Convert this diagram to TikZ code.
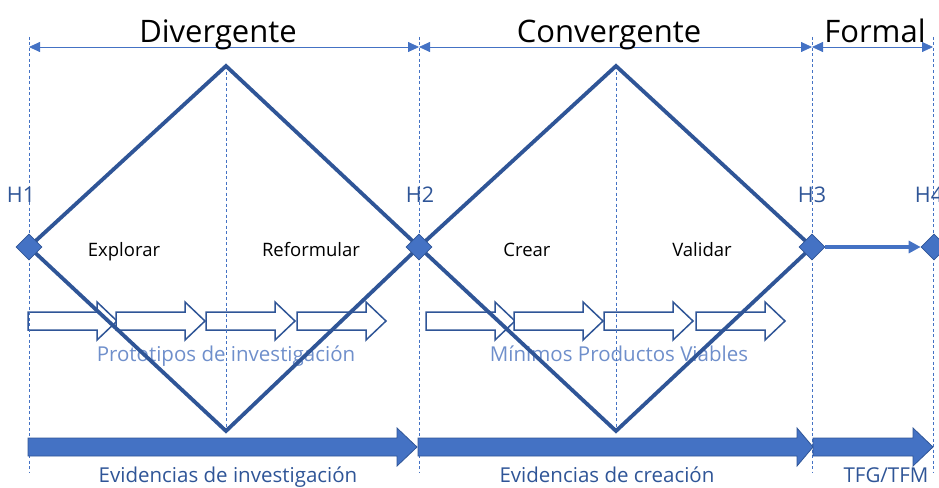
\documentclass[tikz,border=0pt]{standalone}
\usepackage{fontspec}
\setmainfont{Open Sans}
\usetikzlibrary{positioning,arrows.meta,shapes.geometric}

\definecolor{azul}{HTML}{2F5597}
\definecolor{azulclaro}{HTML}{4472C4}
\definecolor{azultexto}{HTML}{6F8FCB}

\begin{document}
\begin{tikzpicture}[x=1pt,y=-1pt,
  guia/.style={azulclaro,line width=0.7pt,dash pattern=on 3pt off 2.5pt},
  cota/.style={azulclaro,line width=0.8pt,{Triangle[length=11pt,width=10pt]}-{Triangle[length=11pt,width=10pt]}},
  rombo/.style={azul,line width=3.8pt,line join=miter},
  hito/.style={diamond,draw=azul,fill=azulclaro,line width=0.6pt,minimum size=26pt,inner sep=0pt},
  enlace/.style={azulclaro,line width=3.6pt,-{Triangle[length=12pt,width=12pt]}},
  bloque/.style={draw=azul,fill=white,line width=1.5pt,line join=miter},
  grueso/.style={draw=azul,fill=azulclaro,line width=0.8pt,line join=miter},
  titulo/.style={anchor=base,font=\fontsize{31}{36}\selectfont},
  etapa/.style={anchor=base,font=\fontsize{18.5}{22}\selectfont},
  hlab/.style={anchor=base,text=azul,font=\fontsize{21.5}{25}\selectfont},
  proto/.style={anchor=base,text=azultexto,font=\fontsize{20.5}{24}\selectfont},
  evid/.style={anchor=base,text=azul,font=\fontsize{20.5}{24}\selectfont}]
\useasboundingbox (0,0) rectangle (939,487);

% textos debajo de las lineas
\node[proto] (proto1) at (226,361) {Prototipos de investigación};
\node[proto] (proto2) at (619,361) {Mínimos Productos Viables};

% flechas de prototipos
\foreach \xa in {28,116,206,297,426,514,604,696}
  {\draw[bloque] (\xa,312) -- ++(69,0) -- ++(0,-10) -- ++(20,19) -- ++(-20,19)
     -- ++(0,-10) -- ++(-69,0) -- cycle;}

% guias verticales
\foreach \xx/\ya/\yb in {29/37/472,419/37/472,812/37/472,933/37/472,226/66/431,616/66/431}
  {\draw[guia] (\xx,\ya) -- (\xx,\yb);}

% cotas de fases
\coordinate (c1) at (29,47);
\coordinate (c2) at (419,47);
\coordinate (c3) at (812,47);
\coordinate (c4) at (933,47);
\draw[cota] (c1) -- (c2);
\draw[cota] (c2) -- (c3);
\draw[cota] (c3) -- (c4);
\node[titulo] (tdiv) at (218,43) {Divergente};
\node[titulo] (tconv) at (609,43) {Convergente};
\node[titulo] (tform) at (875,43) {Formal};

% rombos del doble diamante
\draw[rombo] (29,247) -- (226,66) -- (419,247) -- (226,431) -- cycle;
\draw[rombo] (419,247) -- (616,66) -- (812,247) -- (616,431) -- cycle;

% etapas
\node[etapa] (explorar) at (124,256) {Explorar};
\node[etapa] (reform) at (311,256) {Reformular};
\node[etapa] (crear) at (527,256) {Crear};
\node[etapa] (validar) at (702,256) {Validar};

% hitos
\node[hito] (h1) at (29,247) {};
\node[hito] (h2) at (419,247) {};
\node[hito] (h3) at (812,247) {};
\node[hito] (h4) at (934,247) {};
\node[hlab] (lh1) at (21,202) {H1};
\node[hlab] (lh2) at (420,202) {H2};
\node[hlab] (lh3) at (812,202) {H3};
\node[hlab] (lh4) at (929,202) {H4};
\draw[enlace] (h3) -- (h4);

% evidencias
\foreach \xa/\xh/\xb in {28/397/417,418/797/813,813/913/933}
  {\draw[grueso] (\xa,438) -- (\xh,438) -- (\xh,428) -- (\xb,447) -- (\xh,466)
     -- (\xh,456) -- (\xa,456) -- cycle;}
\node[evid] (ev1) at (228,482) {Evidencias de investigación};
\node[evid] (ev2) at (607,482) {Evidencias de creación};
\node[evid] (ev3) at (886,482) {TFG/TFM};
\end{tikzpicture}
\end{document}
